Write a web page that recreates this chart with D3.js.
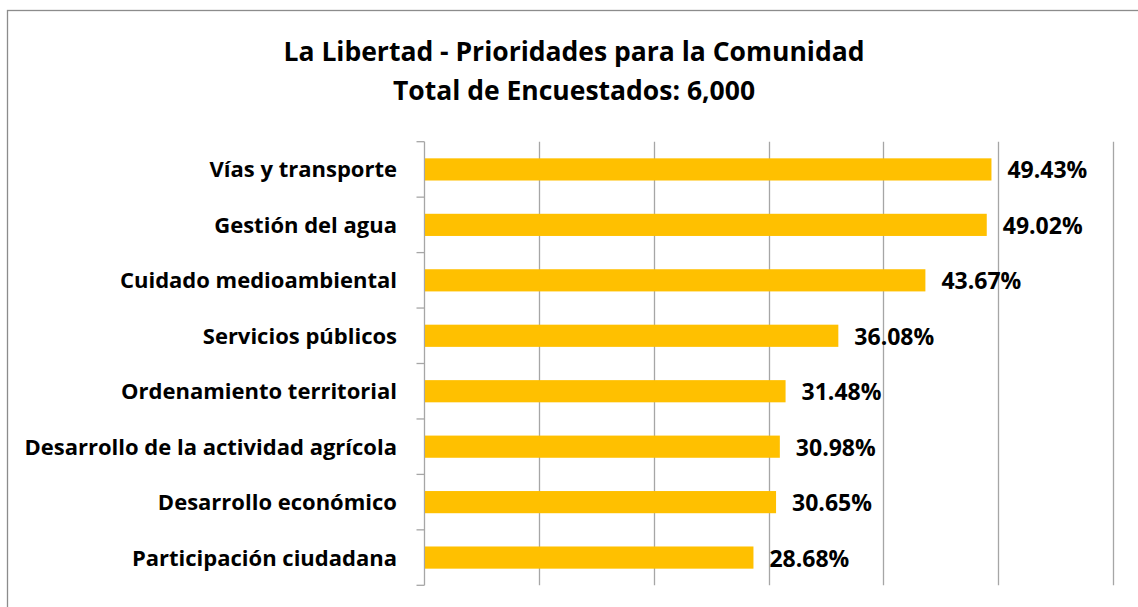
<!DOCTYPE html>
<html>
<head>
<meta charset="utf-8">
<script src="https://cdn.jsdelivr.net/npm/d3@7"></script>
<style>
  html, body { margin: 0; padding: 0; background: #ffffff; }
  svg { display: block; }
  text { font-family: "Open Sans", Lato, "Liberation Sans", sans-serif; font-weight: bold; fill: #000; }
</style>
</head>
<body>
<svg id="chart" width="1138" height="607"></svg>
<script>
const titleLines = ["La Libertad - Prioridades para la Comunidad", "Total de Encuestados: 6,000"];
const categories = [
  "Vías y transporte",
  "Gestión del agua",
  "Cuidado medioambiental",
  "Servicios públicos",
  "Ordenamiento territorial",
  "Desarrollo de la actividad agrícola",
  "Desarrollo económico",
  "Participación ciudadana"
];
const values = [49.43, 49.02, 43.67, 36.08, 31.48, 30.98, 30.65, 28.68];
const xTicks = [0, 10, 20, 30, 40, 50, 60];

const svg = d3.select("#chart");
const W = 1138, H = 607;
const plot = { left: 424.5, right: 1112.7, top: 141.7, bottom: 585.3 };

// outer frame (extends beyond the visible area on right and bottom)
svg.append("rect")
  .attr("x", 7.5).attr("y", 10.5)
  .attr("width", W + 20).attr("height", H + 20)
  .attr("fill", "#fff").attr("stroke", "#8c8c8c").attr("stroke-width", 1.3);

// title
svg.append("g").selectAll("text").data(titleLines).join("text")
  .attr("x", 574)
  .attr("y", (d, i) => 60.5 + i * 39)
  .attr("text-anchor", "middle")
  .style("font-size", "26.5px")
  .text(d => d);

const x = d3.scaleLinear().domain([0, 60]).range([plot.left, plot.right]);
const y = d3.scaleBand().domain(categories).range([plot.top, plot.bottom])
  .paddingInner(0.6).paddingOuter(0.3);

// vertical gridlines
svg.append("g").selectAll("line").data(xTicks.filter(t => t > 0)).join("line")
  .attr("x1", d => Math.round(x(d)) + 0.5).attr("x2", d => Math.round(x(d)) + 0.5)
  .attr("y1", plot.top).attr("y2", plot.bottom)
  .attr("stroke", "#a6a6a6").attr("stroke-width", 1.3);

// category axis line and tick marks at band boundaries
const step = y.step();
const boundaries = d3.range(categories.length + 1).map(i => plot.top + i * step);
const axisG = svg.append("g");
axisG.append("line")
  .attr("x1", plot.left).attr("x2", plot.left)
  .attr("y1", plot.top).attr("y2", plot.bottom)
  .attr("stroke", "#a6a6a6").attr("stroke-width", 1.3);
axisG.selectAll("line.tick").data(boundaries).join("line")
  .attr("class", "tick")
  .attr("x1", plot.left - 8).attr("x2", plot.left)
  .attr("y1", d => d).attr("y2", d => d)
  .attr("stroke", "#a6a6a6").attr("stroke-width", 1.3);

// category labels
svg.append("g").selectAll("text").data(categories).join("text")
  .attr("x", 397)
  .attr("y", d => y(d) + y.bandwidth() / 2 + 8)
  .attr("text-anchor", "end")
  .style("font-size", "22px")
  .text(d => d);

// bars
svg.append("g").selectAll("rect").data(values).join("rect")
  .attr("x", plot.left + 0.5)
  .attr("y", (d, i) => y(categories[i]))
  .attr("width", d => x(d) - plot.left - 0.5)
  .attr("height", y.bandwidth())
  .attr("fill", "#ffc000");

// value labels
svg.append("g").selectAll("text").data(values).join("text")
  .attr("x", d => x(d) + 16)
  .attr("y", (d, i) => y(categories[i]) + y.bandwidth() / 2 + 9)
  .style("font-size", "23px")
  .text(d => d.toFixed(2) + "%");
</script>
</body>
</html>
